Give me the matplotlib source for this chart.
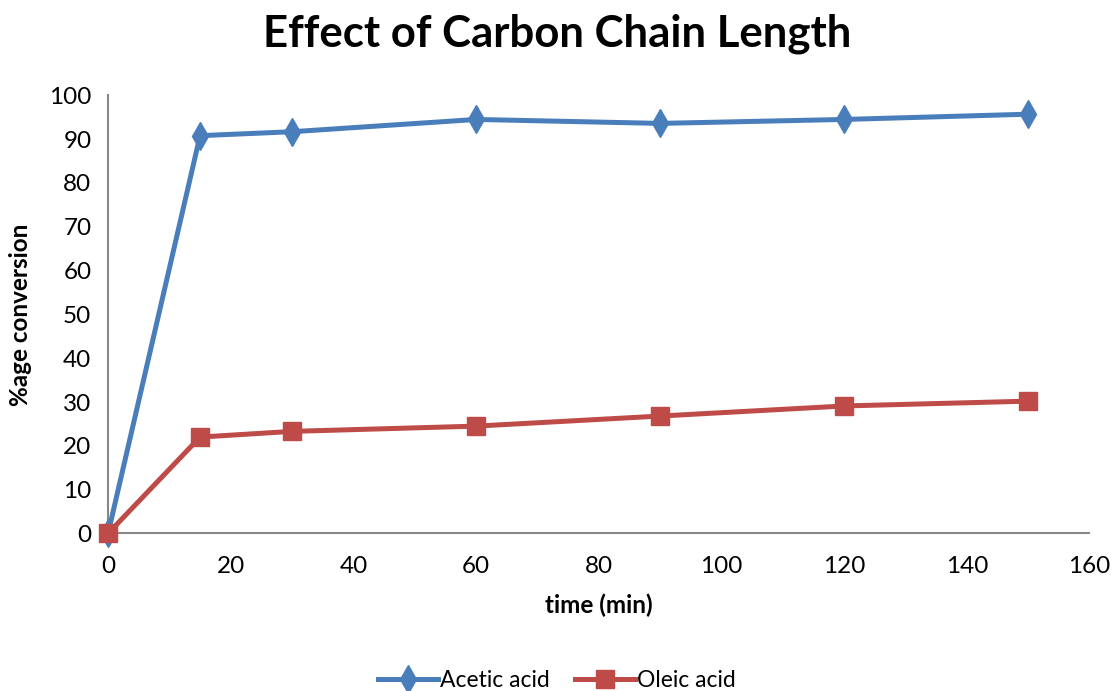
import matplotlib
matplotlib.use("Agg")
import matplotlib.pyplot as plt

# data
time_min = [0, 15, 30, 60, 90, 120, 150]
acetic = [0, 90.8, 91.7, 94.5, 93.6, 94.5, 95.7]
oleic = [0, 22.0, 23.3, 24.5, 26.8, 29.1, 30.2]

x_ticks = [0, 20, 40, 60, 80, 100, 120, 140, 160]
y_ticks = [0, 10, 20, 30, 40, 50, 60, 70, 80, 90, 100]

plt.rcParams['font.family'] = ['Lato', 'DejaVu Sans']

fig = plt.figure(figsize=(11.14, 6.91), dpi=100)
ax = fig.add_axes([0.097, 0.228, 0.881, 0.634])

ax.plot(time_min, acetic, color='#4A7EBB', lw=3.6, marker='d',
        markersize=14, label='Acetic acid', clip_on=False, zorder=3)
ax.plot(time_min, oleic, color='#BE4B48', lw=3.6, marker='s',
        markersize=13, label='Oleic acid', clip_on=False, zorder=3)

ax.set_xlim(0, 160)
ax.set_ylim(0, 100)
ax.set_xticks(x_ticks)
ax.set_yticks(y_ticks)
ax.tick_params(length=0, labelsize=17.5)
ax.tick_params(axis='x', pad=16)
ax.tick_params(axis='y', pad=12)

for s in ['top', 'right']:
    ax.spines[s].set_visible(False)
for s in ['left', 'bottom']:
    ax.spines[s].set_color('#888888')
    ax.spines[s].set_linewidth(1.5)

ax.set_xlabel('time (min)', fontsize=17.5, fontweight='bold', labelpad=12)
ax.set_ylabel('%age conversion', fontsize=17.5, fontweight='bold', labelpad=12)

fig.suptitle('Effect of Carbon Chain Length', fontsize=31.5, fontweight='bold',
             x=0.5, y=0.98)

fig.legend(loc='lower center', bbox_to_anchor=(0.5, -0.03), ncol=2,
           frameon=False, fontsize=16.5, handlelength=2.6, handletextpad=0.1,
           columnspacing=1.1)

fig.savefig('out.png', dpi=100)
